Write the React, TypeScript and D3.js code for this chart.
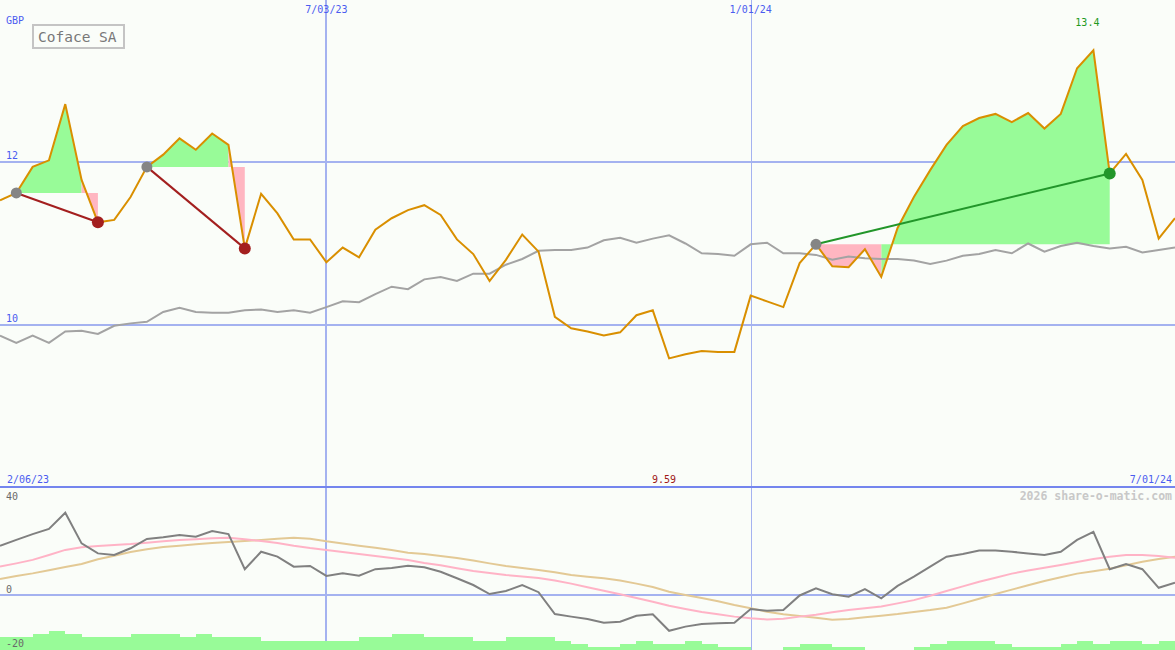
import React from "react";
import * as d3 from "d3";

// ---- data (weekly points, index 0..72) ----
const title = "Coface SA";
const currency = "GBP";
const startLabel = "2/06/23";
const endLabel = "7/01/24";
const gridDates = [
  { idx: 20, label: "7/03/23", w: 2 },
  { idx: 46, label: "1/01/24", w: 1 },
];
const priceTicks = [10, 12];
const lowerTicks = [40, 0, -20];

const price = [
  11.53, 11.62, 11.94, 12.02, 12.71, 11.78, 11.26, 11.29, 11.57, 11.94,
  12.09, 12.29, 12.15, 12.35, 12.21, 10.94, 11.61, 11.37, 11.05, 11.05,
  10.77, 10.95, 10.83, 11.17, 11.31, 11.41, 11.47, 11.35, 11.05, 10.87,
  10.54, 10.8, 11.11, 10.9, 10.1, 9.96, 9.92, 9.87, 9.91, 10.12,
  10.18, 9.59, 9.64, 9.68, 9.67, 9.67, 10.36, 10.29, 10.22, 10.76,
  10.99, 10.72, 10.71, 10.93, 10.59, 11.19, 11.57, 11.9, 12.21, 12.44,
  12.54, 12.59, 12.49, 12.6, 12.41, 12.59, 13.15, 13.37, 11.86, 12.1,
  11.78, 11.06, 11.31,
];

const bench = [
  9.87, 9.78, 9.87, 9.78, 9.92, 9.93, 9.89, 9.99, 10.02, 10.04,
  10.16, 10.21, 10.16, 10.15, 10.15, 10.18, 10.19, 10.16, 10.18, 10.15,
  10.22, 10.29, 10.28, 10.38, 10.47, 10.44, 10.56, 10.59, 10.54, 10.63,
  10.63, 10.74, 10.81, 10.91, 10.92, 10.92, 10.95, 11.04, 11.07, 11.01,
  11.06, 11.1, 11.0, 10.88, 10.87, 10.85, 10.99, 11.01, 10.88, 10.88,
  10.86, 10.8, 10.84, 10.82, 10.81, 10.81, 10.79, 10.75, 10.79, 10.85,
  10.87, 10.92, 10.88, 11.0, 10.9, 10.97, 11.01, 10.97, 10.94, 10.96,
  10.89, 10.92, 10.95,
];

const momentum = [
  21.2, 23.7, 26.2, 28.4, 35.4, 22.2, 17.9, 17.2, 20.1, 24.1,
  24.8, 25.8, 25.1, 27.5, 26.2, 11.1, 18.6, 16.5, 12.2, 12.5,
  8.2, 9.3, 8.3, 11.1, 11.6, 12.6, 11.9, 10.0, 7.2, 4.3,
  0.4, 1.7, 4.3, 1.2, -8.2, -9.3, -10.3, -11.9, -11.5, -8.9,
  -8.3, -15.4, -13.6, -12.5, -12.2, -11.9, -6.0, -6.8, -6.5, -0.2,
  2.9, 0.3, -0.7, 2.5, -1.4, 3.9, 7.9, 12.2, 16.5, 17.6,
  19.1, 19.1, 18.6, 17.9, 17.2, 18.6, 23.7, 27.2, 11.1, 13.3,
  11.1, 3.1, 5.3,
];

const maFast = [
  12.2, 13.6, 15.1, 17.2, 19.4, 20.5, 21.1, 21.5, 21.9, 22.5,
  23.1, 23.7, 24.0, 24.4, 24.6, 24.0, 23.2, 22.4, 21.2, 20.2,
  19.4, 18.5, 17.6, 16.8, 15.9, 15.1, 13.8, 12.8, 11.5, 10.3,
  9.5, 8.6, 8.0, 7.3, 6.2, 4.9, 3.3, 1.8, 0.3, -1.3,
  -2.9, -4.6, -6.0, -7.3, -8.3, -9.3, -10.0, -10.5, -10.2, -9.3,
  -8.5, -7.4, -6.5, -5.7, -4.9, -3.6, -2.2, -0.3, 1.7, 3.7,
  5.7, 7.4, 9.2, 10.5, 11.7, 12.9, 14.2, 15.5, 16.5, 17.2,
  17.2, 16.8, 16.0,
];

const maSlow = [
  6.9, 8.2, 9.3, 10.6, 12.0, 13.3, 15.4, 16.9, 18.5, 19.7,
  20.6, 21.2, 21.8, 22.4, 22.8, 23.2, 23.7, 24.2, 24.6, 24.2,
  23.1, 22.2, 21.2, 20.3, 19.4, 18.2, 17.6, 16.8, 15.9, 14.8,
  13.6, 12.5, 11.6, 10.8, 9.8, 8.6, 7.9, 7.2, 6.2, 4.9,
  3.4, 1.4, 0.0, -1.3, -2.7, -4.3, -5.7, -7.2, -8.3, -9.0,
  -9.8, -10.6, -10.3, -9.6, -8.9, -8.2, -7.3, -6.5, -5.5, -3.6,
  -1.6, 0.4, 2.3, 4.2, 6.0, 7.6, 9.2, 10.2, 11.3, 12.8,
  14.3, 15.5, 16.5,
];

const volume = [
  4, 4, 5, 6, 5, 4, 4, 4, 5, 5,
  5, 4, 5, 4, 4, 4, 3, 3, 3, 3,
  3, 3, 4, 4, 5, 5, 4, 4, 4, 3,
  3, 4, 4, 4, 3, 2, 1, 1, 2, 3,
  2, 2, 3, 2, 1, 1, 0, 0, 1, 2,
  2, 1, 1, 0, 0, 0, 1, 2, 3, 3,
  3, 2, 1, 1, 1, 2, 3, 2, 3, 3,
  2, 3,
];

const trades = [
  { entry: 1, exit: 6 },
  { entry: 9, exit: 15 },
  { entry: 50, exit: 68 },
];

// ---- layout ----
const W = 1175;
const H = 650;
const FONT = "'DejaVu Sans Mono', 'Liberation Mono', monospace";
const BG = "#fafdf9";
const GRID = "#a4b2f0";
const BLUE_TXT = "#4a5cf0";

export default function App() {
  const x = d3.scaleLinear().domain([0, price.length - 1]).range([0, W]);
  const yP = d3.scaleLinear().domain([10, 12]).range([325, 162]);
  const yL = d3.scaleLinear().domain([0, 40]).range([595, 502]);
  const yV = d3.scaleLinear().domain([0, 6]).range([650, 631]);
  const panelSplit = 487;

  const lineP = (arr: number[]) =>
    d3.line<number>().x((_, i) => x(i)).y((d) => yP(d))(arr) || "";
  const lineL = (arr: number[]) =>
    d3.line<number>().x((_, i) => x(i)).y((d) => yL(d))(arr) || "";

  // trade fills: one merged path per colour per trade (avoids seams)
  const fills: JSX.Element[] = [];
  trades.forEach((t, ti) => {
    const base = price[t.entry];
    let upD = "";
    let dnD = "";
    for (let i = t.entry; i < t.exit; i++) {
      const up = price[i + 1] >= base;
      const path =
        d3
          .area<number>()
          .x((d) => x(d))
          .y0(yP(base))
          .y1((d) => yP(price[d]))([i, i + 1]) || "";
      if (up) upD += path;
      else dnD += path;
    }
    fills.push(<path key={`fu${ti}`} d={upD} fill="#98fb98" stroke="none" />);
    fills.push(<path key={`fd${ti}`} d={dnD} fill="#ffb6c1" stroke="none" />);
  });

  const minIdx = d3.minIndex(price);
  const maxIdx = d3.maxIndex(price);

  const bw = x(1) - x(0);

  return (
    <div style={{ position: "absolute", left: 0, top: 0, width: W, height: H }}>
      <svg width={W} height={H} style={{ display: "block", background: BG }} fontFamily={FONT}>
        <rect x={0} y={0} width={W} height={H} fill={BG} />
        {/* horizontal grid upper */}
        {priceTicks.map((t) => (
          <g key={`pt${t}`}>
            <line x1={0} x2={W} y1={yP(t)} y2={yP(t)} stroke={GRID} strokeWidth={2} />
            <text x={6} y={yP(t) - 3} fontSize={10} fill={BLUE_TXT}>
              {t}
            </text>
          </g>
        ))}
        {/* lower zero line */}
        <line x1={0} x2={W} y1={yL(0)} y2={yL(0)} stroke={GRID} strokeWidth={2} />
        {/* vertical date lines */}
        {gridDates.map((g) => (
          <g key={g.label}>
            <line
              x1={Math.round(x(g.idx)) + (g.w === 1 ? 0.5 : 0)}
              x2={Math.round(x(g.idx)) + (g.w === 1 ? 0.5 : 0)}
              y1={0}
              y2={H}
              stroke={GRID}
              strokeWidth={g.w}
            />
            <text x={x(g.idx)} y={13} fontSize={10} fill={BLUE_TXT} textAnchor="middle">
              {g.label}
            </text>
          </g>
        ))}
        {/* panel separator */}
        <line x1={0} x2={W} y1={panelSplit} y2={panelSplit} stroke="#7485ee" strokeWidth={2} />

        {/* trade fills */}
        {fills}

        {/* benchmark */}
        <path d={lineP(bench)} fill="none" stroke="#a3a3a3" strokeWidth={2} />
        {/* price */}
        <path d={lineP(price)} fill="none" stroke="#d98f00" strokeWidth={2} strokeLinejoin="miter" />

        {/* trade lines and markers */}
        {trades.map((t, ti) => {
          const win = price[t.exit] > price[t.entry];
          const col = win ? "#22962a" : "#a31f1f";
          return (
            <g key={`t${ti}`}>
              <line
                x1={x(t.entry)}
                y1={yP(price[t.entry])}
                x2={x(t.exit)}
                y2={yP(price[t.exit])}
                stroke={col}
                strokeWidth={2}
              />
              <circle cx={x(t.entry)} cy={yP(price[t.entry])} r={5.5} fill="#858585" />
              <circle cx={x(t.exit)} cy={yP(price[t.exit])} r={6} fill={col} />
            </g>
          );
        })}

        {/* labels upper */}
        <text x={6} y={24} fontSize={10} fill={BLUE_TXT}>
          {currency}
        </text>
        <rect x={33} y={25} width={91} height={23} fill="none" stroke="#c4c4c4" strokeWidth={2} />
        <text x={38} y={42} fontSize={14.5} fill="#787878">
          {title}
        </text>
        <text x={x(maxIdx) - 6} y={26} fontSize={10} fill="#1f9a1f" textAnchor="middle">
          {d3.format(".1f")(price[maxIdx])}
        </text>
        <text x={x(minIdx) - 5} y={483} fontSize={10} fill="#a01818" textAnchor="middle">
          {d3.format(".2f")(price[minIdx])}
        </text>
        <text x={7} y={483} fontSize={10} fill={BLUE_TXT}>
          {startLabel}
        </text>
        <text x={W - 3} y={483} fontSize={10} fill={BLUE_TXT} textAnchor="end">
          {endLabel}
        </text>

        {/* lower panel */}
        <text x={W - 3} y={500} fontSize={11.5} fontWeight="bold" fill="#c8c8c8" textAnchor="end">
          2026 share-o-matic.com
        </text>
        <path d={lineL(maSlow)} fill="none" stroke="#e3c995" strokeWidth={2} />
        <path d={lineL(maFast)} fill="none" stroke="#ffb3c6" strokeWidth={2} />
        <path d={lineL(momentum)} fill="none" stroke="#808080" strokeWidth={2} />
        <g shapeRendering="crispEdges">
          {volume.map((v, i) =>
            v > 0 ? (
              <rect
                key={`v${i}`}
                x={Math.round(x(i))}
                y={Math.round(yV(v))}
                width={Math.round(x(i + 1)) - Math.round(x(i))}
                height={650 - Math.round(yV(v))}
                fill="#98fb98"
              />
            ) : null
          )}
        </g>
        {lowerTicks.map((t) => (
          <text
            key={`lt${t}`}
            x={6}
            y={t === -20 ? 647 : yL(t) - 2}
            fontSize={10}
            fill="#6a6a6a"
          >
            {t}
          </text>
        ))}
      </svg>
    </div>
  );
}
